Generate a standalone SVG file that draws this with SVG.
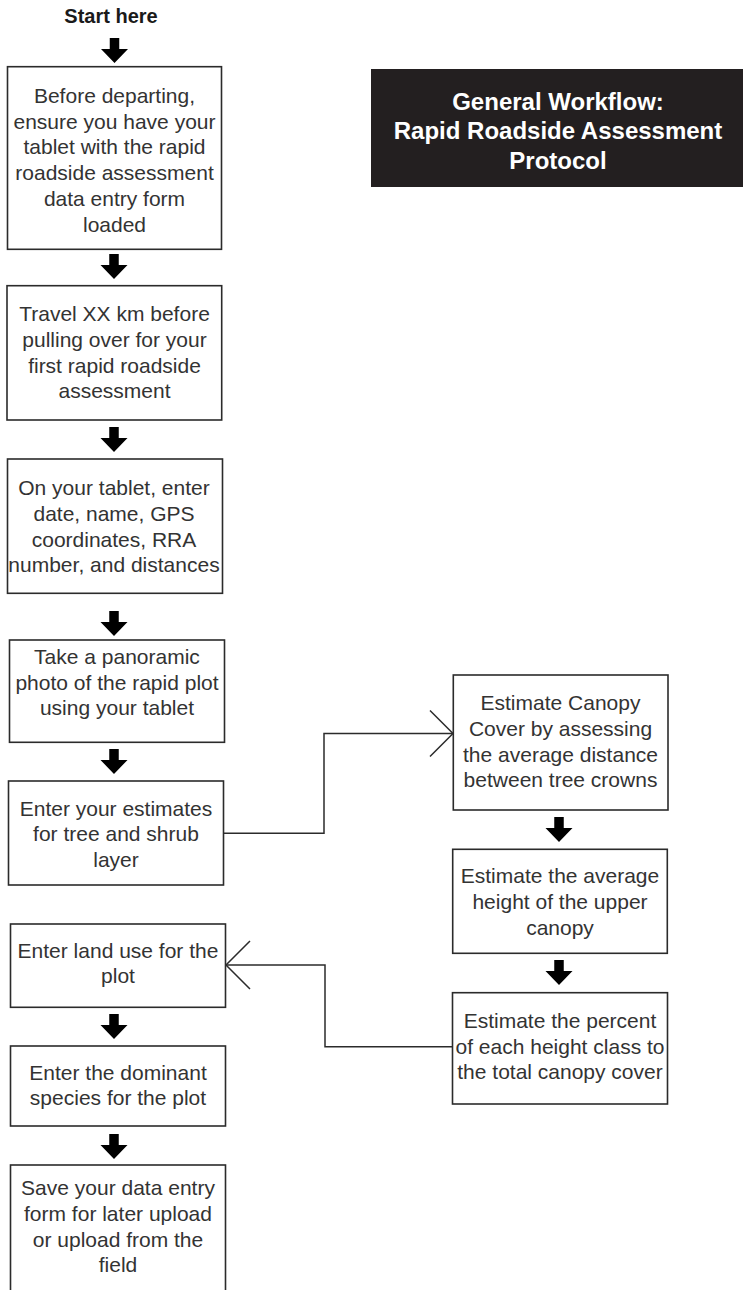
<svg xmlns="http://www.w3.org/2000/svg" width="743" height="1290" viewBox="0 0 743 1290">
<style>
.box{fill:#fff;stroke:#2b2b2b;stroke-width:1.6}
.t{font-family:"Liberation Sans",Arial,sans-serif;font-size:21px;fill:#333;text-anchor:middle}
.title{font-family:"Liberation Sans",Arial,sans-serif;font-size:24px;font-weight:bold;fill:#fff;text-anchor:middle}
.start{font-family:"Liberation Sans",Arial,sans-serif;font-size:20px;font-weight:bold;fill:#1a1a1a;text-anchor:middle}
.conn{fill:none;stroke:#2b2b2b;stroke-width:1.5}
.blk{fill:#000}
</style>
<defs>
<path id="down" d="M-4.75,0 H4.75 V11 H13.5 L0,25 L-13.5,11 H-4.75 Z"/>
</defs>
<rect width="743" height="1290" fill="#fff"/>

<g id="start">
<text class="start" x="111" y="23">Start here</text>
</g>

<g id="title">
<rect x="371" y="69" width="372" height="118" fill="#231f20"/>
<text class="title" x="558" y="109.5">General Workflow:</text>
<text class="title" x="558" y="139">Rapid Roadside Assessment</text>
<text class="title" x="558" y="168.5">Protocol</text>
</g>

<g id="arrows">
<use href="#down" class="blk" x="114.5" y="38"/>
<use href="#down" class="blk" x="114" y="254"/>
<use href="#down" class="blk" x="114" y="427"/>
<use href="#down" class="blk" x="114" y="611"/>
<use href="#down" class="blk" x="114" y="749"/>
<use href="#down" class="blk" x="114" y="1014"/>
<use href="#down" class="blk" x="114" y="1134"/>
<use href="#down" class="blk" x="559" y="817"/>
<use href="#down" class="blk" x="559" y="960"/>
</g>

<g id="n1">
<rect class="box" x="7.5" y="66.7" width="214" height="182.6"/>
<text class="t" x="114.5" y="102.7">Before departing,</text>
<text class="t" x="114.5" y="128.5">ensure you have your</text>
<text class="t" x="114.5" y="154.3">tablet with the rapid</text>
<text class="t" x="114.5" y="180">roadside assessment</text>
<text class="t" x="114.5" y="205.8">data entry form</text>
<text class="t" x="114.5" y="231.6">loaded</text>
</g>

<g id="n2">
<rect class="box" x="7" y="285.7" width="214.7" height="134.3"/>
<text class="t" x="114.5" y="320.7">Travel XX km before</text>
<text class="t" x="114.5" y="346.7">pulling over for your</text>
<text class="t" x="114.5" y="372.5">first rapid roadside</text>
<text class="t" x="114.5" y="398">assessment</text>
</g>

<g id="n3">
<rect class="box" x="7.5" y="459" width="215" height="134.3"/>
<text class="t" x="114" y="495">On your tablet, enter</text>
<text class="t" x="114" y="521">date, name, GPS</text>
<text class="t" x="114" y="546.7">coordinates, RRA</text>
<text class="t" x="114" y="572">number, and distances</text>
</g>

<g id="n4">
<rect class="box" x="9.5" y="640" width="215" height="102.3"/>
<text class="t" x="117" y="664">Take a panoramic</text>
<text class="t" x="117" y="689.5">photo of the rapid plot</text>
<text class="t" x="117" y="715">using your tablet</text>
</g>

<g id="n5">
<rect class="box" x="8.5" y="781" width="215" height="104"/>
<text class="t" x="116" y="815.5">Enter your estimates</text>
<text class="t" x="116" y="841.3">for tree and shrub</text>
<text class="t" x="116" y="867">layer</text>
</g>

<g id="n6">
<rect class="box" x="10.5" y="924" width="215" height="83.3"/>
<text class="t" x="118" y="957.5">Enter land use for the</text>
<text class="t" x="118" y="983.3">plot</text>
</g>

<g id="n7">
<rect class="box" x="10.5" y="1046" width="215" height="80"/>
<text class="t" x="118" y="1079.5">Enter the dominant</text>
<text class="t" x="118" y="1105">species for the plot</text>
</g>

<g id="n8">
<rect class="box" x="10.5" y="1165" width="215" height="140"/>
<text class="t" x="118" y="1195">Save your data entry</text>
<text class="t" x="118" y="1220.8">form for later upload</text>
<text class="t" x="118" y="1246.5">or upload from the</text>
<text class="t" x="118" y="1272">field</text>
</g>

<g id="r1">
<rect class="box" x="453.3" y="675" width="214.7" height="135"/>
<text class="t" x="560.5" y="710">Estimate Canopy</text>
<text class="t" x="560.5" y="735.8">Cover by assessing</text>
<text class="t" x="560.5" y="761.5">the average distance</text>
<text class="t" x="560.5" y="787.3">between tree crowns</text>
</g>

<g id="r2">
<rect class="box" x="452.7" y="849.3" width="214.6" height="104"/>
<text class="t" x="560" y="883.3">Estimate the average</text>
<text class="t" x="560" y="909">height of the upper</text>
<text class="t" x="560" y="935">canopy</text>
</g>

<g id="r3">
<rect class="box" x="452.5" y="992.7" width="215" height="111.3"/>
<text class="t" x="560" y="1028">Estimate the percent</text>
<text class="t" x="560" y="1053.5">of each height class to</text>
<text class="t" x="560" y="1079.3">the total canopy cover</text>
</g>

<g id="connectors">
<polyline class="conn" points="223.5,833.3 324,833.3 324,733.5 453,733.5"/>
<polyline class="conn" points="430,710.5 453,733.5 430,756.5"/>
<polyline class="conn" points="452.5,1046.7 325,1046.7 325,965 226,965"/>
<polyline class="conn" points="250,941 226,965 250,989"/>
</g>
</svg>
